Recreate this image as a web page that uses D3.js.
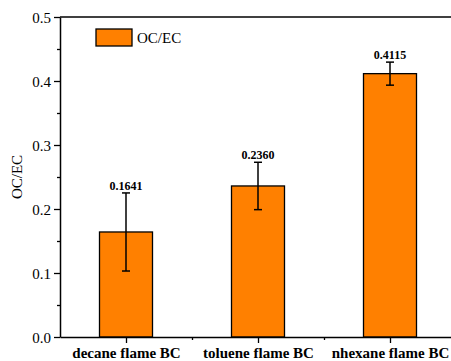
<!DOCTYPE html>
<html>
<head>
<meta charset="utf-8">
<script src="https://cdn.jsdelivr.net/npm/d3@7"></script>
<style>
  body { margin: 0; background: #fff; }
  svg text { font-family: "Liberation Serif", "Times New Roman", serif; fill: #000; }
</style>
</head>
<body>
<div id="chart"></div>
<script>
// OC/EC ratio per flame type
const categories = ["decane flame BC", "toluene flame BC", "nhexane flame BC"];
const ocec = [0.1641, 0.2360, 0.4115];
const errors = [0.061, 0.037, 0.018];
const yTicks = [0.0, 0.1, 0.2, 0.3, 0.4, 0.5];
const seriesName = "OC/EC";

const width = 451, height = 361;
const margin = { top: 17, right: -5, bottom: 24, left: 60 };
const innerW = width - margin.left - margin.right;
const innerH = height - margin.top - margin.bottom;
const orange = "#ff8000";

const svg = d3.select("#chart").append("svg")
    .attr("width", width)
    .attr("height", height);

const g = svg.append("g")
    .attr("transform", `translate(${margin.left},${margin.top})`);

const x = d3.scaleLinear().domain([0.5, 3.5]).range([0, innerW]);
const y = d3.scaleLinear().domain([0, 0.5]).range([innerH, 0]);
const barW = 53;

// bars
g.selectAll("rect.bar")
    .data(ocec)
    .join("rect")
    .attr("class", "bar")
    .attr("x", (d, i) => x(i + 1) - barW / 2)
    .attr("y", d => y(d))
    .attr("width", barW)
    .attr("height", d => innerH - y(d))
    .attr("fill", orange)
    .attr("stroke", "#000")
    .attr("stroke-width", 1.3);

// error bars
const eb = g.selectAll("g.err")
    .data(ocec)
    .join("g")
    .attr("class", "err");
eb.append("line")
    .attr("x1", (d, i) => x(i + 1)).attr("x2", (d, i) => x(i + 1))
    .attr("y1", (d, i) => y(d + errors[i])).attr("y2", (d, i) => y(d - errors[i]))
    .attr("stroke", "#000").attr("stroke-width", 1.5);
[1, -1].forEach(s => {
    eb.append("line")
        .attr("x1", (d, i) => x(i + 1) - 4).attr("x2", (d, i) => x(i + 1) + 4)
        .attr("y1", (d, i) => y(d + s * errors[i])).attr("y2", (d, i) => y(d + s * errors[i]))
        .attr("stroke", "#000").attr("stroke-width", 1.5);
});

// value labels
g.selectAll("text.val")
    .data(ocec)
    .join("text")
    .attr("class", "val")
    .attr("x", (d, i) => x(i + 1))
    .attr("y", (d, i) => y(d + errors[i]) - 3)
    .attr("text-anchor", "middle")
    .attr("font-size", "12px")
    .attr("font-weight", "bold")
    .text(d => d.toFixed(4));

// y axis
const yAxis = g.append("g")
    .call(d3.axisLeft(y).tickValues(yTicks).tickFormat(d3.format(".1f")).tickSize(6).tickSizeOuter(0));
yAxis.select(".domain").attr("stroke-width", 1.5);
yAxis.selectAll(".tick line").attr("stroke-width", 1.3);
yAxis.selectAll(".tick text").attr("font-size", "15px").attr("x", -9).attr("dy", "0.35em");
g.append("g")
    .call(d3.axisLeft(y).tickValues(d3.range(0.05, 0.5, 0.1)).tickSize(3).tickFormat(""))
    .call(a => a.select(".domain").remove())
    .selectAll("line").attr("stroke-width", 1.3);

// x axis
const xAxis = g.append("g")
    .attr("transform", `translate(0,${innerH})`)
    .call(d3.axisBottom(x).tickValues([1, 2, 3]).tickFormat((d, i) => categories[i]).tickSize(6).tickSizeOuter(0));
xAxis.select(".domain").attr("stroke-width", 1.5);
xAxis.selectAll(".tick line").attr("stroke-width", 1.3);
xAxis.selectAll(".tick text").attr("font-size", "15px").attr("font-weight", "bold").attr("y", 10);
g.append("g")
    .attr("transform", `translate(0,${innerH})`)
    .call(d3.axisBottom(x).tickValues([1.5, 2.5]).tickSize(3).tickFormat(""))
    .call(a => a.select(".domain").remove())
    .selectAll("line").attr("stroke-width", 1.3);

// top frame
g.append("line")
    .attr("x1", 0).attr("x2", innerW)
    .attr("y1", 0).attr("y2", 0)
    .attr("stroke", "#000").attr("stroke-width", 1.5);

// y label
svg.append("text")
    .attr("transform", `translate(22,${margin.top + innerH / 2}) rotate(-90)`)
    .attr("text-anchor", "middle")
    .attr("font-size", "15px")
    .text(seriesName);

// legend
const legend = svg.append("g").attr("transform", "translate(96,29)");
legend.append("rect")
    .attr("width", 36).attr("height", 17)
    .attr("fill", orange).attr("stroke", "#000").attr("stroke-width", 1.3);
legend.append("text")
    .attr("x", 41).attr("y", 9).attr("dy", "0.35em")
    .attr("font-size", "15px")
    .text(seriesName);
</script>
</body>
</html>
